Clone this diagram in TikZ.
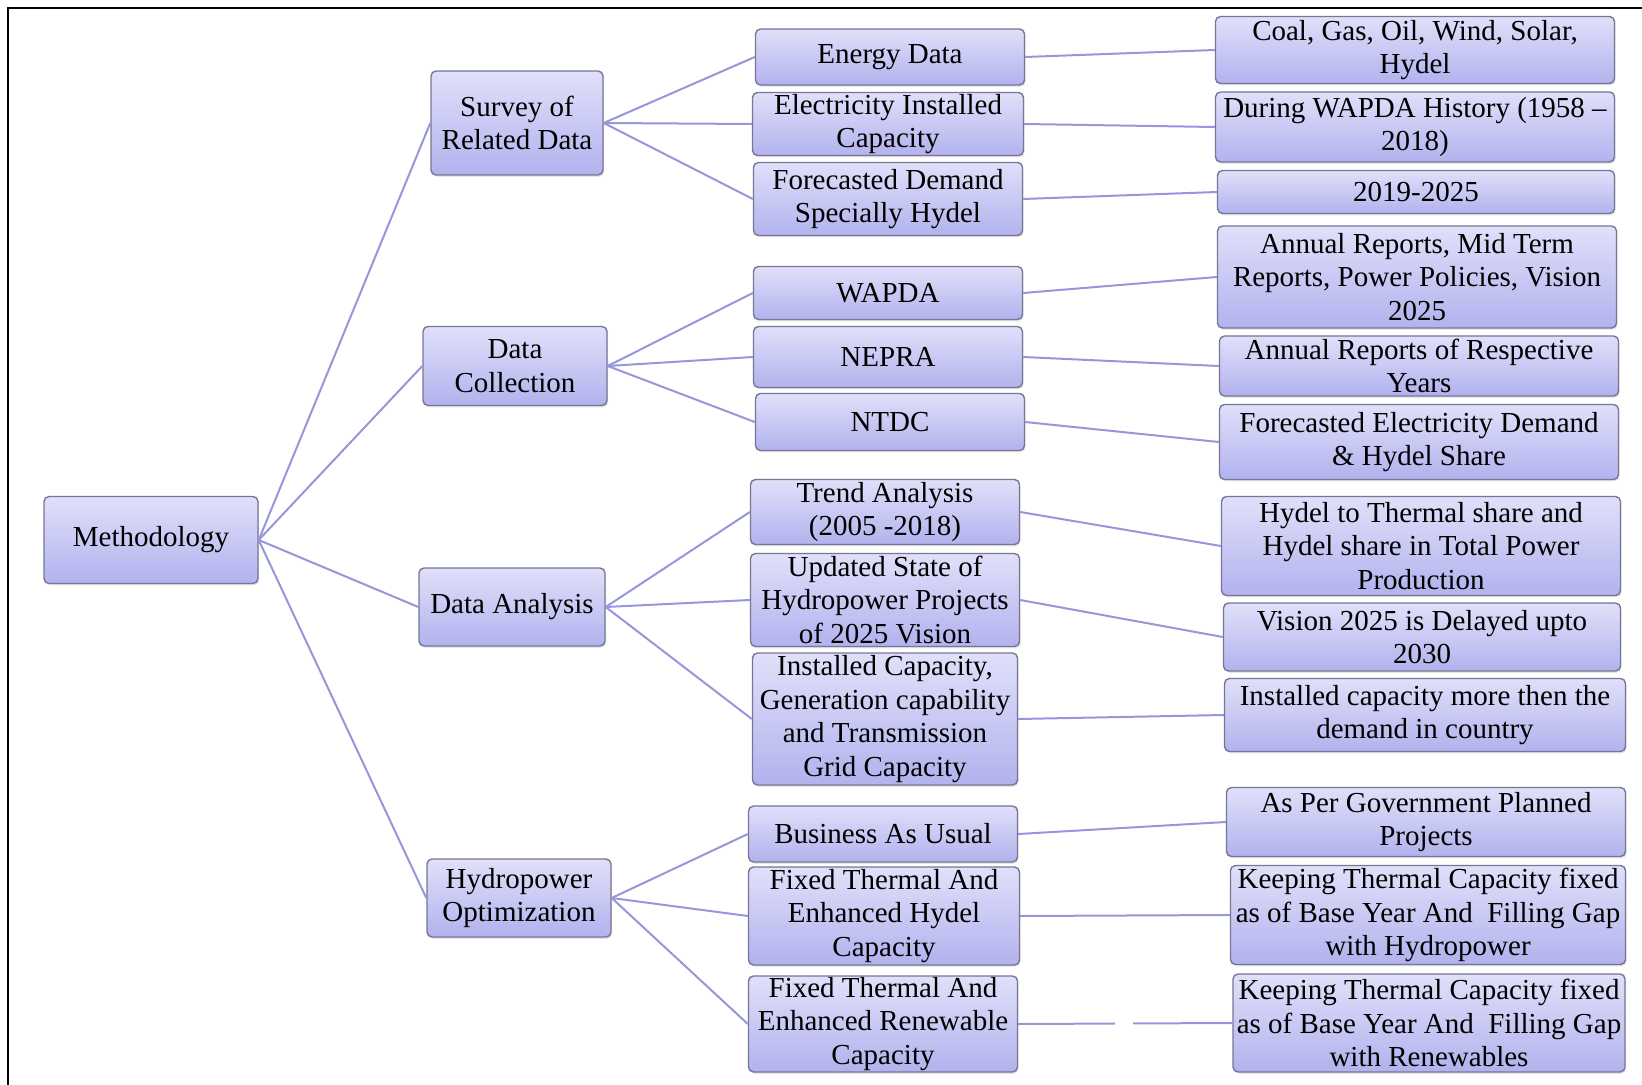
\documentclass[tikz,border=0pt]{standalone}
\usepackage{fontspec}
\setmainfont{Liberation Serif}
\usepackage{tikz}
\usetikzlibrary{shadows}

\definecolor{boxtop}{RGB}{224,224,250}
\definecolor{boxbot}{RGB}{178,178,238}
\definecolor{boxrim}{RGB}{118,118,150}
\definecolor{linkcol}{RGB}{150,150,218}

\tikzset{
	box/.style={rectangle, rounded corners=2.5pt, draw=boxrim, line width=0.7pt,
		top color=boxtop, bottom color=boxbot, align=center, inner xsep=1pt, inner ysep=0pt,
		drop shadow={opacity=0.2, shadow xshift=0.6pt, shadow yshift=-0.9pt},
		font=\fontsize{14.5}{16.8}\selectfont},
	link/.style={draw=linkcol, line width=1pt}
}

\begin{document}
\begin{tikzpicture}[x=0.5pt, y=-0.5pt]
				\useasboundingbox (0,0) rectangle (1642,1085);
				\draw[line width=1.3pt] (8,1085) -- (8,8) -- (1642,8);
				
				\node[box, minimum width=107pt, minimum height=43.5pt] (meth) at (151,540) {Methodology};
				
				\node[box, minimum width=86pt, minimum height=52pt] (survey) at (517,123) {Survey of\\Related Data};
				\node[box, minimum width=92pt, minimum height=39.5pt] (collect) at (515,366) {Data\\Collection};
				\node[box, minimum width=93pt, minimum height=39pt] (analysis) at (512,607) {Data Analysis};
				\node[box, minimum width=92pt, minimum height=39pt] (hydro) at (519,898) {Hydropower\\Optimization};
				
				\node[box, minimum width=134.5pt, minimum height=28pt] (energy) at (890,57) {Energy Data};
				\node[box, minimum width=135.5pt, minimum height=31.5pt] (elec) at (888,124) {Electricity Installed\\Capacity};
				\node[box, minimum width=134.5pt, minimum height=36.5pt] (fcdemand) at (888,199) {Forecasted Demand\\Specially Hydel};
				
				\node[box, minimum width=134.5pt, minimum height=26.5pt] (wapda) at (888,293) {WAPDA};
				\node[box, minimum width=134.5pt, minimum height=30.5pt] (nepra) at (888,357) {NEPRA};
				\node[box, minimum width=134.5pt, minimum height=28.5pt] (ntdc) at (890,422) {NTDC};
				
				\node[box, minimum width=134.5pt, minimum height=32.5pt] (trend) at (885,512) {Trend Analysis\\(2005 -2018)};
				\node[box, minimum width=134.5pt, minimum height=46.5pt] (updated) at (885,600) {Updated State of\\Hydropower Projects\\of 2025 Vision};
				\node[box, minimum width=132.5pt, minimum height=66pt] (instcap) at (885,719) {Installed Capacity,\\Generation capability\\and Transmission\\Grid Capacity};
				
				\node[box, minimum width=134.5pt, minimum height=28pt] (bau) at (883,834) {Business As Usual};
				\node[box, minimum width=135.5pt, minimum height=49pt] (fixhydel) at (884,916) {Fixed Thermal And\\Enhanced Hydel\\Capacity};
				\node[box, minimum width=134.5pt, minimum height=48pt] (fixren) at (883,1024) {Fixed Thermal And\\Enhanced Renewable\\Capacity};
				
				\node[box, minimum width=199.5pt, minimum height=33.5pt] (coal) at (1415,50) {Coal, Gas, Oil, Wind, Solar,\\Hydel};
				\node[box, minimum width=199.5pt, minimum height=35pt] (during) at (1415,127) {During WAPDA History (1958 --\\2018)};
				\node[box, minimum width=198.5pt, minimum height=21.5pt] (yrs) at (1416,192) {2019-2025};
				\node[box, minimum width=199.5pt, minimum height=51pt] (annual) at (1417,277) {Annual Reports, Mid Term\\Reports, Power Policies, Vision\\2025};
				\node[box, minimum width=199.5pt, minimum height=30pt] (respective) at (1419,366) {Annual Reports of Respective\\Years};
				\node[box, minimum width=199.5pt, minimum height=37.5pt] (fcelec) at (1419,442) {Forecasted Electricity Demand\\\& Hydel Share};
				\node[box, minimum width=199.5pt, minimum height=49.5pt] (hydelshare) at (1421,546) {Hydel to Thermal share and\\Hydel share in Total Power\\Production};
				\node[box, minimum width=198.5pt, minimum height=34pt] (vision) at (1422,637) {Vision 2025 is Delayed upto\\2030};
				\node[box, minimum width=200.5pt, minimum height=36.5pt] (morethen) at (1425,715) {Installed capacity more then the\\demand in country};
				\node[box, minimum width=199.5pt, minimum height=34.5pt] (asper) at (1426,822) {As Per Government Planned\\Projects};
				\node[box, minimum width=197.5pt, minimum height=49.5pt] (keephydro) at (1428,915) {Keeping Thermal Capacity fixed\\as of Base Year And\ \ Filling Gap\\with Hydropower};
				\node[box, minimum width=196pt, minimum height=49pt] (keepren) at (1429,1023) {Keeping Thermal Capacity fixed\\as of Base Year And\ \ Filling Gap\\with Renewables};
				
				\draw[link] (meth.east) -- (survey.west);
				\draw[link] (meth.east) -- (collect.west);
				\draw[link] (meth.east) -- (analysis.west);
				\draw[link] (meth.east) -- (hydro.west);
				
				\draw[link] (survey.east) -- (energy.west);
				\draw[link] (survey.east) -- (elec.west);
				\draw[link] (survey.east) -- (fcdemand.west);
				\draw[link] (collect.east) -- (wapda.west);
				\draw[link] (collect.east) -- (nepra.west);
				\draw[link] (collect.east) -- (ntdc.west);
				\draw[link] (analysis.east) -- (trend.west);
				\draw[link] (analysis.east) -- (updated.west);
				\draw[link] (analysis.east) -- (instcap.west);
				\draw[link] (hydro.east) -- (bau.west);
				\draw[link] (hydro.east) -- (fixhydel.west);
				\draw[link] (hydro.east) -- (fixren.west);
				
				\draw[link] (energy.east) -- (coal.west);
				\draw[link] (elec.east) -- (during.west);
				\draw[link] (fcdemand.east) -- (yrs.west);
				\draw[link] (wapda.east) -- (annual.west);
				\draw[link] (nepra.east) -- (respective.west);
				\draw[link] (ntdc.east) -- (fcelec.west);
				\draw[link] (trend.east) -- (hydelshare.west);
				\draw[link] (updated.east) -- (vision.west);
				\draw[link] (instcap.east) -- (morethen.west);
				\draw[link] (bau.east) -- (asper.west);
				\draw[link] (fixhydel.east) -- (keephydro.west);
				\draw[link, dash pattern=on 48.5pt off 9pt on 120pt] (fixren.east) -- (keepren.west);
			\end{tikzpicture}
\end{document}
